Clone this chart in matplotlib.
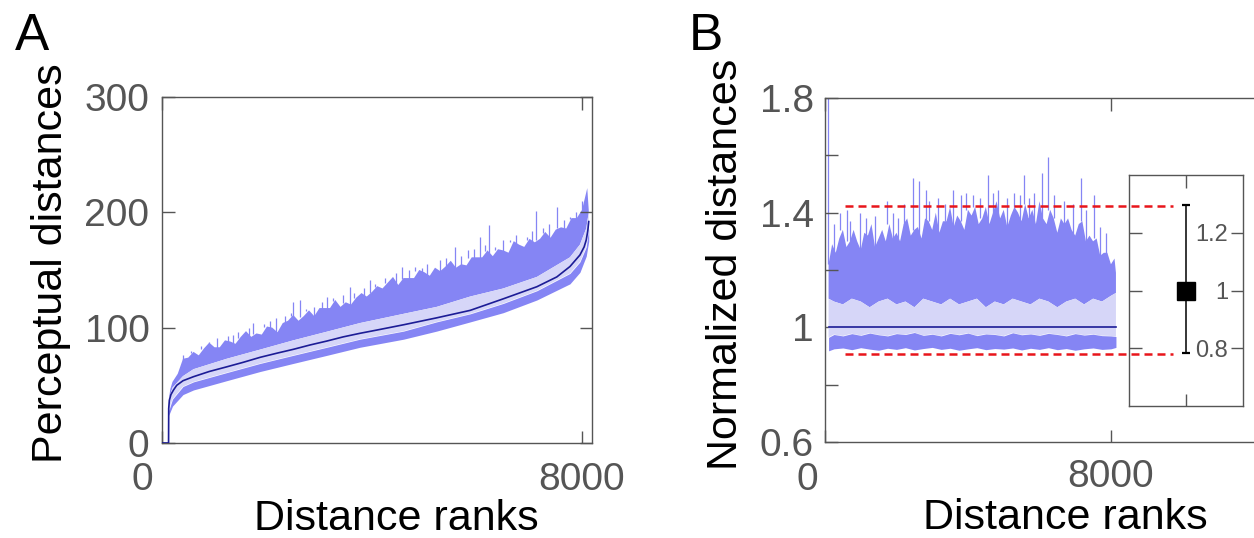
import numpy as np
import matplotlib.pyplot as plt
from matplotlib.transforms import ScaledTranslation

plt.rcParams['font.family'] = ['Liberation Sans', 'DejaVu Sans']

# ---------------- panel A : perceptual distances vs rank ----------------
mean_rank = [0, 125, 128, 140, 170, 220, 280, 400, 600, 900, 1230, 1550, 1870, 2200,
             2500, 2820, 3140, 3450, 3770, 4100, 4600, 5230, 5870, 6500, 7140, 7520,
             7770, 7960, 8040, 8080, 8110, 8128]
mean_val = [0, 0, 30, 37, 42, 46, 50, 54, 57.5, 62, 66, 70, 74.3, 78,
            81.2, 85, 88.4, 92, 95.1, 98, 102.5, 108.5, 115, 125, 135.5, 144,
            153, 163, 170, 176, 184, 192]

# upper noisy band: jagged top and its lower edge
top_rank = [130, 160] + list(range(200, 8101, 100)) + [8128]
top_val = [38, 47,
           53, 60, 73, 74, 79, 76, 82, 87, 83, 83, 89, 88, 86, 92, 97, 92, 95, 94, 101, 100,
           96, 104, 106, 111, 106, 110, 115, 110, 117, 117, 117, 124, 118, 122, 120, 126,
           130, 127, 131, 136, 134, 139, 144, 137, 143, 143, 143, 150, 148, 145, 152, 149,
           153, 158, 152, 155, 154, 161, 161, 161, 167, 162, 168, 167, 165, 175, 172, 170,
           177, 174, 177, 183, 178, 185, 187, 186, 195, 195, 202, 221,
           202]
ub_rank = [130, 200, 400, 600, 1230, 1870, 2500, 3140, 3770, 4600, 5230, 5870, 6500,
           7140, 7770, 7960, 8080, 8128]
ub_val = [38, 48, 58, 64, 73, 81, 89, 96.5, 104, 112, 118, 127, 134, 144, 161, 172, 186, 200]

# lower noisy band
lb_rank = [128, 200, 400, 600, 1230, 1870, 2500, 3140, 3770, 4600, 5230, 5870, 6500,
           7140, 7770, 7960, 8080, 8128]
lb_top = [28, 38, 49, 53, 61, 69, 76, 83, 90, 97, 105, 112, 121, 132, 147, 157, 170, 186]
lb_bot = [24, 32, 42, 46, 54, 62, 69, 76, 83, 90, 97, 105, 113, 124, 138, 148, 162, 175]

spike_rank = [400, 550, 750, 900, 1050, 1250, 1350, 1450, 1650, 1730, 1950, 2050, 2180,
              2350, 2450, 2490, 2630, 2750, 2900, 3050, 3140, 3250, 3450, 3580, 3650,
              3850, 3960, 4050, 4250, 4450, 4565, 4700, 4820, 4945, 5050, 5150, 5295,
              5400, 5485, 5580, 5700, 5835, 5950, 6057, 6150, 6230, 6350, 6500, 6630,
              6750, 6850, 6950, 7050, 7124, 7250, 7380, 7518, 7650, 7770, 7880, 8000]
spike_val = [76, 80, 84, 88, 91, 93, 94, 96, 100, 104, 103, 106, 108,
             110, 113, 122, 124, 116, 118, 122, 127, 126, 128, 135, 130,
             134, 141, 138, 143, 147, 153, 150, 153, 152, 155, 152, 159,
             160, 157, 170, 162, 167, 168, 179, 172, 189, 170, 176, 176,
             180, 170, 179, 184, 201, 186, 190, 205, 193, 196, 200, 210]

# ---------------- panel B : normalized distances ----------------
mean_b_rank = [100, 8140]
mean_b = [1.0, 1.0]

top_b_rank = list(range(100, 8101, 100)) + [8140]
top_b = [1.22, 1.29, 1.26, 1.31, 1.34, 1.28, 1.30, 1.34, 1.30, 1.27, 1.33, 1.32, 1.36, 1.28,
         1.31, 1.34, 1.30, 1.36, 1.31, 1.33, 1.30, 1.36, 1.38, 1.32, 1.34, 1.35, 1.31, 1.38,
         1.37, 1.34, 1.40, 1.33, 1.37, 1.37, 1.42, 1.35, 1.39, 1.37, 1.34, 1.41,
         1.39, 1.42, 1.36, 1.38, 1.42, 1.36, 1.40, 1.44, 1.38, 1.41, 1.35, 1.39, 1.42, 1.40,
         1.37, 1.43, 1.38, 1.41, 1.36, 1.44, 1.38, 1.36, 1.41, 1.38, 1.33, 1.38, 1.36, 1.38,
         1.34, 1.32, 1.36, 1.37, 1.30, 1.32, 1.30, 1.31, 1.25, 1.26, 1.26, 1.22, 1.24,
         1.19]
band_b_rank = [100] + list(range(250, 8001, 250)) + [8140]
ub_b = [1.10, 1.09, 1.08, 1.10, 1.09, 1.07, 1.09, 1.10, 1.08, 1.09, 1.07, 1.10, 1.09, 1.08,
        1.10, 1.08, 1.09, 1.10, 1.07, 1.09, 1.08, 1.10, 1.09, 1.08, 1.10, 1.09, 1.07, 1.09,
        1.10, 1.08, 1.10, 1.09, 1.11, 1.12]
lb_b_top = [0.965, 0.975, 0.970, 0.978, 0.972, 0.980, 0.974, 0.970, 0.978, 0.975, 0.982,
            0.972, 0.976, 0.970, 0.979, 0.974, 0.980, 0.971, 0.977, 0.975, 0.970, 0.981,
            0.974, 0.977, 0.972, 0.979, 0.975, 0.970, 0.978, 0.973, 0.976, 0.971, 0.970,
            0.968]
lb_b_bot = [0.918, 0.925, 0.928, 0.922, 0.929, 0.924, 0.920, 0.927, 0.923, 0.929, 0.921,
            0.926, 0.930, 0.923, 0.927, 0.920, 0.925, 0.929, 0.922, 0.926, 0.924, 0.928,
            0.921, 0.927, 0.923, 0.929, 0.922, 0.926, 0.920, 0.925, 0.928, 0.923, 0.925,
            0.930]

spike_b_rank = [80, 250, 420, 606, 700, 980, 1150, 1400, 1725, 1900, 2050, 2200, 2470,
                2630, 2825, 2900, 3150, 3350, 3570, 3800, 3944, 4150, 4350, 4570, 4700,
                4848, 5100, 5296, 5450, 5575, 5700, 5846, 6061, 6247, 6400, 6700, 6950,
                7152, 7300, 7533, 7700, 7850]
spike_b = [2.5, 1.36, 1.40, 1.41, 1.37, 1.40, 1.38, 1.39, 1.44, 1.40, 1.38, 1.43, 1.52,
           1.51, 1.48, 1.44, 1.45, 1.43, 1.48, 1.46, 1.47, 1.46, 1.45, 1.53, 1.47,
           1.48, 1.45, 1.47, 1.46, 1.53, 1.45, 1.47, 1.54, 1.595, 1.46, 1.44, 1.43,
           1.52, 1.41, 1.46, 1.35, 1.33]

red_x = [560, 9730]
red_y = [1.424, 0.908]

# inset: mean with error bar
err_mean = 1.0
err_lo = 0.782
err_hi = 1.296

band_c = '#8585F4'
light_c = '#D6D6F8'
mean_c = '#1C1C96'
gray = '#555555'


def style(ax):
    for s in ax.spines.values():
        s.set_color(gray)
        s.set_linewidth(1.0)
    ax.tick_params(direction='in', length=9, width=1.0, color=gray,
                   labelcolor=gray, labelsize=28)
    ax.tick_params(axis='x', pad=14)
    ax.tick_params(axis='y', pad=9)


def draw_bands(ax, trank, tval, urank, uval, lrank, ltop, lbot, srank, sval):
    ax.fill(list(trank) + list(urank)[::-1], list(tval) + list(uval)[::-1],
            color=band_c, lw=0, zorder=1)
    idx = np.clip(np.searchsorted(trank, srank), 0, len(trank) - 1)
    ax.vlines(srank, np.array(tval)[idx] - 4 * (tval[-1] - tval[0]) / 1000, sval,
              color=band_c, lw=0.9, zorder=1)
    ax.fill(list(urank) + list(lrank)[::-1], list(uval) + list(ltop)[::-1],
            color=light_c, lw=0, zorder=2)
    ax.fill_between(lrank, lbot, ltop, color=band_c, lw=0, zorder=2)


fig = plt.figure(figsize=(12.54, 5.38), dpi=100)

# ---- A ----
axA = fig.add_axes([162 / 1254, 95 / 538, 430 / 1254, 346 / 538])
draw_bands(axA, top_rank, top_val, ub_rank, ub_val, lb_rank, lb_top, lb_bot,
           spike_rank, spike_val)
axA.plot(mean_rank, mean_val, color=mean_c, lw=1.2, zorder=3)
axA.set_xlim(0, 8190)
axA.set_ylim(0, 300)
axA.set_xticks([0, 8000])
axA.set_xticklabels(['0', '8000'])
axA.set_yticks([0, 100, 200, 300])
style(axA)
axA.tick_params(top=True, right=True)
lab = axA.get_xticklabels()[0]
lab.set_transform(lab.get_transform() + ScaledTranslation(-0.2, 0, fig.dpi_scale_trans))
axA.set_xlabel('Distance ranks', fontsize=31)
axA.xaxis.set_label_coords(0.544, -0.162)
axA.set_ylabel('Perceptual distances', fontsize=31)
axA.yaxis.set_label_coords(-0.212, 0.52)

# ---- B ----
axB = fig.add_axes([825 / 1254, 96 / 538, 445 / 1254, 344 / 538])
draw_bands(axB, top_b_rank, top_b, band_b_rank, ub_b, band_b_rank, lb_b_top, lb_b_bot,
           spike_b_rank, spike_b)
axB.plot(mean_b_rank, mean_b, color=mean_c, lw=1.2, zorder=3)
for yv in red_y:
    axB.plot(red_x, [yv, yv], color='#E8151B', lw=1.8, dashes=(3.2, 2), zorder=4)
axB.set_xlim(0, 12450)
axB.set_ylim(0.6, 1.8)
axB.set_xticks([0, 8000])
axB.set_xticklabels(['0', '8000'])
axB.set_yticks([0.6, 0.8, 1.0, 1.2, 1.4, 1.6, 1.8])
axB.set_yticklabels(['0.6', '', '1', '', '1.4', '', '1.8'])
style(axB)
axB.tick_params(top=True)
axB.tick_params(axis='y', pad=8)
axB.tick_params(axis='x', pad=12)
lab = axB.get_xticklabels()[0]
lab.set_transform(lab.get_transform() + ScaledTranslation(-0.18, -0.03, fig.dpi_scale_trans))
axB.set_xlabel('Distance ranks', fontsize=31)
axB.xaxis.set_label_coords(0.539, -0.163)
axB.set_ylabel('Normalized distances', fontsize=31)
axB.yaxis.set_label_coords(-0.1775, 0.515)

# ---- inset ----
axI = fig.add_axes([1129.3 / 1254, 132 / 538, 114 / 1254, 231 / 538])
axI.set_facecolor('none')
axI.errorbar([1], [err_mean], yerr=[[err_mean - err_lo], [err_hi - err_mean]],
             fmt='s', color='black', ms=13, elinewidth=1.1, capsize=3, capthick=1.6)
axI.set_xlim(0, 2)
axI.set_ylim(0.6, 1.4)
axI.set_xticks([1])
axI.set_xticklabels([''])
axI.set_yticks([0.8, 1.0, 1.2])
axI.set_yticklabels(['0.8', '1', '1.2'])
for s in axI.spines.values():
    s.set_color(gray)
    s.set_linewidth(1.0)
axI.tick_params(direction='in', length=9, width=1.0, color=gray, labelcolor=gray,
                labelsize=17, top=True, bottom=True)
axI.tick_params(axis='y', left=True, right=True, labelleft=False, labelright=True, pad=-11)
plt.setp(axI.get_yticklabels(), ha='right')

fig.text(15 / 1254, 1 - 50 / 538, 'A', fontsize=37, va='baseline')
fig.text(689 / 1254, 1 - 50 / 538, 'B', fontsize=37, va='baseline')

fig.savefig('out.png', dpi=100)
